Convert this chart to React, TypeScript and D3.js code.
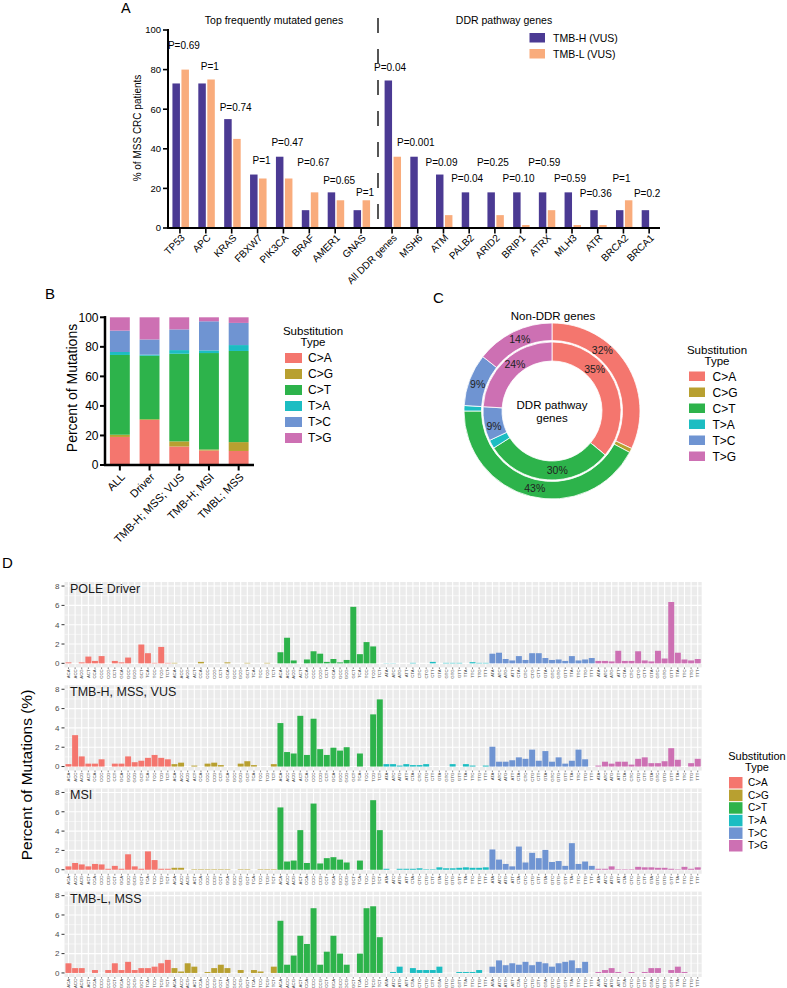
import React from 'react';
import * as d3 from 'd3';

const FONT = '"Liberation Sans", Arial, Helvetica, sans-serif';

// ---------- Panel A ----------
const frequentGenes = ['TP53', 'APC', 'KRAS', 'FBXW7', 'PIK3CA', 'BRAF', 'AMER1', 'GNAS'];
const ddrGenes = ['All DDR genes', 'MSH6', 'ATM', 'PALB2', 'ARID2', 'BRIP1', 'ATRX', 'MLH3', 'ATR', 'BRCA2', 'BRCA1'];
const tmbHFrequent = [73, 73, 55, 27, 36, 9, 18, 9];
const tmbLFrequent = [80, 75, 45, 25, 25, 18, 14, 14];
const tmbHDDR = [74.5, 36, 27, 18, 18, 18, 18, 18, 9, 9, 9];
const tmbLDDR = [36, 0, 6.5, 0, 6.5, 1.5, 9, 1.5, 1.5, 14, 0];
const pFrequent = ['P=0.69', 'P=1', 'P=0.74', 'P=1', 'P=0.47', 'P=0.67', 'P=0.65', 'P=1'];
const pFrequentLevel = [92, 81.5, 61, 34, 43, 33, 24, 18];
const pDDR = ['P=0.04', 'P=0.001', 'P=0.09', 'P=0.04', 'P=0.25', 'P=0.10', 'P=0.59', 'P=0.59', 'P=0.36', 'P=1', 'P=0.2'];
const pDDRLevel = [81, 43, 33, 25, 33, 25, 33, 25, 17.5, 25, 17.5];
const yTicksA = [0, 20, 40, 60, 80, 100];
const seriesA = ['TMB-H (VUS)', 'TMB-L (VUS)'];
const colorsA = ['#4B3A93', '#F9AC7C'];

// ---------- Substitution types ----------
const subTypes = ['C>A', 'C>G', 'C>T', 'T>A', 'T>C', 'T>G'];
const subColors = ['#F4766E', '#B8A030', '#2DB34B', '#1CBDC2', '#6F94D2', '#CD70B3'];

// ---------- Panel B ----------
const bGroups = ['ALL', 'Driver', 'TMB-H; MSS; VUS', 'TMB-H; MSI', 'TMBL; MSS'];
const bCA = [19, 30.5, 12.5, 9.8, 9.5];
const bCG = [1.5, 0.5, 3.5, 0.7, 6];
const bCT = [54, 43, 59.3, 65.3, 61.7];
const bTA = [2, 0.7, 2.5, 1.8, 4];
const bTC = [14.5, 10.3, 14, 19.7, 15];
const bTG = [9, 15, 8.2, 2.7, 3.8];
const yTicksB = [0, 20, 40, 60, 80, 100];

// ---------- Panel C ----------
const nonDDR = [32, 0.8, 42.2, 1, 9.6, 14.4];
const ddrPathway = [36, 0, 30, 2, 8, 24];
const nonDDRLabels = ['32%', '', '43%', '', '9%', '14%'];
const ddrLabels = ['35%', '', '30%', '', '9%', '24%'];
const nonDDRLabelAt = [11, 0, 53.5, 0, 80.5, 93.3];
const ddrLabelAt = [12.6, 0, 48.6, 0, 70.8, 89.4];

// ---------- Panel D ----------
const contextsCA = ['ACA', 'ACC', 'ACG', 'ACT', 'CCA', 'CCC', 'CCG', 'CCT', 'GCA', 'GCC', 'GCG', 'GCT', 'TCA', 'TCC', 'TCG', 'TCT'];
const contextsTA = ['ATA', 'ATC', 'ATG', 'ATT', 'CTA', 'CTC', 'CTG', 'CTT', 'GTA', 'GTC', 'GTG', 'GTT', 'TTA', 'TTC', 'TTG', 'TTT'];
const contextLabelsD = [...contextsCA, ...contextsCA, ...contextsCA, ...contextsTA, ...contextsTA, ...contextsTA];
const facetNames = ['POLE Driver', 'TMB-H, MSS, VUS', 'MSI', 'TMB-L, MSS'];
const poleDriver = [
  0.1, 0, 0.1, 0.7, 0.25, 0.75, 0, 0.25, 0.1, 0.6, 0, 1.95, 1.05, 0.05, 1.7, 0.05,
  0.05, 0, 0, 0, 0.15, 0, 0, 0, 0.1, 0, 0, 0.05, 0, 0, 0.05, 0,
  1.15, 2.65, 0.3, 0, 0.4, 1.25, 1.0, 0.15, 0.45, 0.1, 0.35, 5.85, 0.95, 2.2, 1.75, 0,
  0.02, 0.02, 0, 0, 0.05, 0, 0, 0.15, 0, 0.05, 0.05, 0.05, 0, 0.12, 0.05, 0.05,
  1.0, 1.1, 0.45, 0.3, 0.75, 0.35, 1.05, 1.05, 0.55, 0.35, 0.4, 0.25, 0.75, 0.3, 0.4, 0.55,
  0.25, 0.25, 0.2, 1.3, 0.25, 0.25, 1.25, 0.3, 0.2, 1.3, 0.5, 6.35, 1.1, 0.4, 0.3, 0.45,
];
const tmbHMssVus = [
  0.25, 3.25, 1.05, 0.3, 0.3, 0.75, 0, 0.3, 0.3, 1.05, 0.45, 0.6, 0.9, 1.2, 0.9, 0.75,
  0.25, 0.4, 0, 0.1, 0, 0.3, 0.4, 0.15, 0, 0, 0.3, 0.55, 0.15, 0, 0, 0.25,
  4.5, 1.5, 1.35, 5.25, 1.2, 4.95, 1.8, 1.2, 1.95, 1.65, 2.0, 0, 1.35, 0, 5.4, 6.95,
  0.25, 0.25, 0.1, 0.25, 0.15, 0.15, 0.25, 0, 0, 0, 0.25, 0, 0.25, 0.1, 0, 0.1,
  2.05, 0.5, 0.5, 0.65, 0.95, 0.8, 1.75, 0.6, 1.6, 0.5, 0.95, 0.3, 0.6, 1.75, 0.75, 0,
  0.1, 0.5, 0.3, 0.5, 0.5, 0.2, 0.8, 0.95, 0.35, 0.35, 0.55, 1.9, 0.7, 0, 0.35, 0.8,
];
const msi = [
  0.35, 0.7, 0.55, 0.35, 0.6, 0.55, 0.1, 0.4, 0.1, 1.6, 0.35, 0.1, 1.9, 1.0, 0.1, 0.1,
  0.2, 0.2, 0, 0.05, 0.05, 0.05, 0.05, 0.05, 0.05, 0, 0.05, 0.05, 0, 0.05, 0.05, 0.05,
  6.45, 0.85, 0.95, 4.1, 0.7, 6.85, 0.65, 1.2, 1.3, 1.05, 0.75, 0, 0.95, 0, 7.2, 4.1,
  0.1, 0, 0.1, 0.1, 0.1, 0.15, 0.05, 0.05, 0.25, 0.15, 0.15, 0.2, 0.25, 0.2, 0.2, 0.25,
  2.1, 1.05, 0.6, 0.35, 2.4, 0.75, 1.75, 1.2, 2.05, 0.8, 0.9, 0.4, 2.75, 0.6, 0.85, 0.4,
  0.1, 0.1, 0.35, 0.05, 0.05, 0.05, 0.3, 0.25, 0.25, 0.2, 0.2, 0.1, 0.05, 0.3, 0.1, 0.25,
];
const tmbLMss = [
  1.0, 0.5, 0.5, 0, 0.3, 0, 0.3, 1.0, 0.3, 1.15, 0.3, 0.5, 0.5, 0.65, 1.0, 1.35,
  0.5, 0.15, 1.0, 0.65, 0, 0.1, 0.5, 0.85, 0.5, 0, 0.3, 0, 0.3, 0.15, 0, 0.65,
  5.4, 0.85, 1.8, 3.85, 3.0, 6.7, 0.85, 2.2, 3.85, 2.0, 0.85, 0, 2.0, 6.7, 6.9, 3.7,
  0, 0.1, 0.65, 0, 0.5, 0.3, 0.3, 0.3, 0.65, 0, 0, 0.1, 0.1, 0.1, 0.3, 0,
  0.65, 1.3, 0.8, 1.0, 0.85, 1.15, 0.8, 1.15, 1.0, 0.65, 1.0, 1.15, 1.3, 0.5, 1.15, 0,
  0.1, 0.3, 0.5, 0.1, 0, 0.1, 0, 0.1, 0.5, 0.5, 0, 0.3, 0.65, 0.1, 0, 0,
];
const facetValues = [poleDriver, tmbHMssVus, msi, tmbLMss];
const yTicksD = [0, 2, 4, 6, 8];
const yMinorD = [1, 3, 5, 7];

function PanelA() {
  const y = d3.scaleLinear().domain([0, 100]).range([228, 30]);
  const xL = d3.scaleBand<string>().domain(frequentGenes).range([167, 374]);
  const xR = d3.scaleBand<string>().domain(ddrGenes).range([379.2, 662]);
  const groups = [
    { genes: frequentGenes, h: tmbHFrequent, l: tmbLFrequent, p: pFrequent, pl: pFrequentLevel, x: xL, pdx: 4 },
    { genes: ddrGenes, h: tmbHDDR, l: tmbLDDR, p: pDDR, pl: pDDRLevel, x: xR, pdx: -2 },
  ];
  return (
    <g>
      <text x={121} y={13} fontSize={14.5}>A</text>
      <text x={274} y={24} fontSize={10.5} textAnchor="middle">Top frequently mutated genes</text>
      <text x={504} y={24} fontSize={10.5} textAnchor="middle">DDR pathway genes</text>
      {groups.map((g, gi) => {
        const step = g.x.step();
        const w = step * 0.29;
        return (
          <g key={gi}>
            {g.genes.map((gene, i) => {
              const c = (g.x(gene) as number) + g.x.bandwidth() / 2;
              return (
                <g key={gene}>
                  <rect x={c - w} y={y(g.h[i])} width={w} height={y(0) - y(g.h[i])} fill={colorsA[0]} />
                  <rect x={c + 1.5} y={y(g.l[i])} width={w} height={y(0) - y(g.l[i])} fill={colorsA[1]} />
                  <line x1={c} x2={c} y1={228} y2={233.5} stroke="#000" strokeWidth={1.6} />
                  <text x={c + g.pdx} y={y(g.pl[i])} dy="0.35em" fontSize={10} textAnchor="middle">{g.p[i]}</text>
                  <text transform={`translate(${c + 3},${236}) rotate(-45)`} fontSize={10} textAnchor="end" dy="0.35em">{gene}</text>
                </g>
              );
            })}
          </g>
        );
      })}
      <line x1={378} x2={378} y1={18} y2={228} stroke="#444" strokeWidth={1.8} strokeDasharray="15,16" />
      <line x1={168} x2={168} y1={29} y2={229} stroke="#000" strokeWidth={2} />
      <line x1={167} x2={660} y1={228} y2={228} stroke="#000" strokeWidth={2} />
      {yTicksA.map((t) => (
        <g key={t}>
          <line x1={163} x2={168} y1={y(t)} y2={y(t)} stroke="#000" strokeWidth={1.6} />
          <text x={161} y={y(t)} dy="0.35em" fontSize={9.5} textAnchor="end">{t}</text>
        </g>
      ))}
      <text transform={`translate(141,128) rotate(-90)`} fontSize={10} textAnchor="middle">% of MSS CRC patients</text>
      {seriesA.map((s, i) => (
        <g key={s}>
          <rect x={529.5} y={33 + i * 16} width={15.5} height={9.5} fill={colorsA[i]} />
          <text x={553} y={38 + i * 16} dy="0.35em" fontSize={10.5}>{s}</text>
        </g>
      ))}
    </g>
  );
}

function PanelB() {
  const y = d3.scaleLinear().domain([0, 100]).range([465, 317.3]);
  const x = d3.scaleBand<string>().domain(bGroups).range([105, 253.5]).paddingInner(0.33).paddingOuter(0.165);
  const rows = bGroups.map((g, i) => ({
    group: g,
    'C>A': bCA[i], 'C>G': bCG[i], 'C>T': bCT[i], 'T>A': bTA[i], 'T>C': bTC[i], 'T>G': bTG[i],
  }));
  const stack = d3.stack<any>().keys(subTypes)(rows);
  return (
    <g>
      <text x={45} y={299} fontSize={15}>B</text>
      {stack.map((layer, li) => (
        <g key={layer.key} fill={subColors[li]}>
          {layer.map((d, i) => (
            <rect key={i} x={x(bGroups[i])} y={y(d[1])} width={x.bandwidth()} height={Math.max(0, y(d[0]) - y(d[1]))} />
          ))}
        </g>
      ))}
      <line x1={105} x2={105} y1={316} y2={466} stroke="#000" strokeWidth={2.5} />
      <line x1={104} x2={254} y1={465} y2={465} stroke="#000" strokeWidth={2.5} />
      {yTicksB.map((t) => (
        <g key={t}>
          <line x1={100} x2={105} y1={y(t)} y2={y(t)} stroke="#000" strokeWidth={2} />
          <text x={98.5} y={y(t)} dy="0.35em" fontSize={12} textAnchor="end">{t}</text>
        </g>
      ))}
      {bGroups.map((g) => {
        const c = (x(g) as number) + x.bandwidth() / 2;
        return (
          <g key={g}>
            <line x1={c} x2={c} y1={465} y2={470.5} stroke="#000" strokeWidth={2} />
            <text transform={`translate(${c + 3},${475}) rotate(-45)`} fontSize={11} textAnchor="end" dy="0.35em">{g}</text>
          </g>
        );
      })}
      <text transform={`translate(77,388) rotate(-90)`} fontSize={14} textAnchor="middle">Percent of Mutations</text>
      <text x={313} y={335} fontSize={11.5} textAnchor="middle">Substitution</text>
      <text x={313} y={346} fontSize={11.5} textAnchor="middle">Type</text>
      {subTypes.map((s, i) => (
        <g key={s}>
          <rect x={285} y={353 + i * 16} width={17} height={10} fill={subColors[i]} />
          <text x={308} y={358 + i * 16} dy="0.35em" fontSize={12}>{s}</text>
        </g>
      ))}
    </g>
  );
}

function PanelC() {
  const cx = 552, cy = 411;
  const pie = d3.pie<number>().sort(null).value((d) => d);
  const outerArc = d3.arc<any>().innerRadius(70.5).outerRadius(88);
  const innerArc = d3.arc<any>().innerRadius(50).outerRadius(69);
  const outer = pie(nonDDR);
  const inner = pie(ddrPathway);
  const lab = (pct: number, r: number) => {
    const a = (pct / 100) * 2 * Math.PI;
    return [Math.sin(a) * r, -Math.cos(a) * r];
  };
  return (
    <g>
      <text x={433} y={303} fontSize={15}>C</text>
      <text x={553} y={320} fontSize={11.5} textAnchor="middle">Non-DDR genes</text>
      <g transform={`translate(${cx},${cy})`}>
        {outer.map((d, i) => (
          <path key={'o' + i} d={outerArc(d) as string} fill={subColors[i]} stroke="#fff" strokeWidth={0.8} />
        ))}
        {inner.map((d, i) => (
          <path key={'i' + i} d={innerArc(d) as string} fill={subColors[i]} stroke="#fff" strokeWidth={0.8} />
        ))}
        {nonDDRLabels.map((t, i) => {
          if (!t) return null;
          const [lx, ly] = lab(nonDDRLabelAt[i], 79);
          return <text key={'ol' + i} x={lx} y={ly} dy="0.35em" fontSize={10.5} textAnchor="middle" fill="#222">{t}</text>;
        })}
        {ddrLabels.map((t, i) => {
          if (!t) return null;
          const [lx, ly] = lab(ddrLabelAt[i], 60);
          return <text key={'il' + i} x={lx} y={ly} dy="0.35em" fontSize={10.5} textAnchor="middle" fill="#222">{t}</text>;
        })}
        <text x={0} y={-6} dy="0.35em" fontSize={11.5} textAnchor="middle">DDR pathway</text>
        <text x={0} y={7} dy="0.35em" fontSize={11.5} textAnchor="middle">genes</text>
      </g>
      <text x={717} y={354} fontSize={11.5} textAnchor="middle">Substitution</text>
      <text x={717} y={364.5} fontSize={11.5} textAnchor="middle">Type</text>
      {subTypes.map((s, i) => (
        <g key={s}>
          <rect x={689} y={371.5 + i * 16} width={16} height={9.5} fill={subColors[i]} />
          <text x={712.5} y={376.3 + i * 16} dy="0.35em" fontSize={12}>{s}</text>
        </g>
      ))}
    </g>
  );
}

function PanelD() {
  const ids = contextLabelsD.map((_, i) => i);
  const x = d3.scaleBand<number>().domain(ids).range([64.5, 701.7]).paddingInner(0.1).paddingOuter(0.15);
  const top0 = 582, stepF = 103.2, ph = 85.4;
  const typeOf = (i: number) => Math.floor(i / 16);
  const cxOf = (i: number) => (x(i) as number) + x.bandwidth() / 2;
  return (
    <g>
      <text x={2} y={568} fontSize={15}>D</text>
      <text transform={`translate(32,775) rotate(-90)`} fontSize={15.5} textAnchor="middle">Percent of Mutations (%)</text>
      {facetValues.map((vals, fi) => {
        const top = top0 + fi * stepF;
        const y = d3.scaleLinear().domain([-0.42, 8.42]).range([top + ph, top]);
        return (
          <g key={fi}>
            <rect x={64.5} y={top} width={701.7 - 64.5} height={ph} fill="#EBEBEB" />
            {yMinorD.map((t) => (
              <line key={'m' + t} x1={64.5} x2={701.7} y1={y(t)} y2={y(t)} stroke="#fff" strokeWidth={0.55} />
            ))}
            {yTicksD.map((t) => (
              <line key={'M' + t} x1={64.5} x2={701.7} y1={y(t)} y2={y(t)} stroke="#fff" strokeWidth={1.1} />
            ))}
            {ids.map((i) => (
              <line key={'v' + i} x1={cxOf(i)} x2={cxOf(i)} y1={top} y2={top + ph} stroke="#fff" strokeWidth={1.1} />
            ))}
            {ids.map((i) => (
              vals[i] > 0 ? (
                <rect key={'b' + i} x={x(i)} y={y(vals[i])} width={x.bandwidth()} height={y(0) - y(vals[i])} fill={subColors[typeOf(i)]} />
              ) : null
            ))}
            {yTicksD.map((t) => (
              <g key={'t' + t}>
                <line x1={61.5} x2={64.5} y1={y(t)} y2={y(t)} stroke="#333" strokeWidth={1} />
                <text x={59.5} y={y(t)} dy="0.35em" fontSize={8} textAnchor="end" fill="#4D4D4D">{t}</text>
              </g>
            ))}
            {ids.map((i) => (
              <g key={'l' + i}>
                <line x1={cxOf(i)} x2={cxOf(i)} y1={top + ph} y2={top + ph + 1.6} stroke="#333" strokeWidth={0.6} />
                <text transform={`translate(${cxOf(i)},${top + ph + 2}) rotate(-90)`} fontSize={4.3} textAnchor="end" dy="0.35em" fill="#4D4D4D">{contextLabelsD[i]}</text>
              </g>
            ))}
            <text x={70} y={top + 11} fontSize={12.5} fill="#1a1a1a">{facetNames[fi]}</text>
          </g>
        );
      })}
      <text x={757} y={760} fontSize={11} textAnchor="middle">Substitution</text>
      <text x={757} y={771} fontSize={11} textAnchor="middle">Type</text>
      {subTypes.map((s, i) => (
        <g key={s}>
          <rect x={729} y={777 + i * 12.6} width={13.5} height={11.5} fill={subColors[i]} />
          <text x={748} y={782.7 + i * 12.6} dy="0.35em" fontSize={10}>{s}</text>
        </g>
      ))}
    </g>
  );
}

export default function App() {
  return (
    <svg width={787} height={988} style={{ position: 'absolute', left: 0, top: 0, background: '#fff' }} fontFamily={FONT}>
      <rect width={787} height={988} fill="#fff" />
      <PanelA />
      <PanelB />
      <PanelC />
      <PanelD />
    </svg>
  );
}
